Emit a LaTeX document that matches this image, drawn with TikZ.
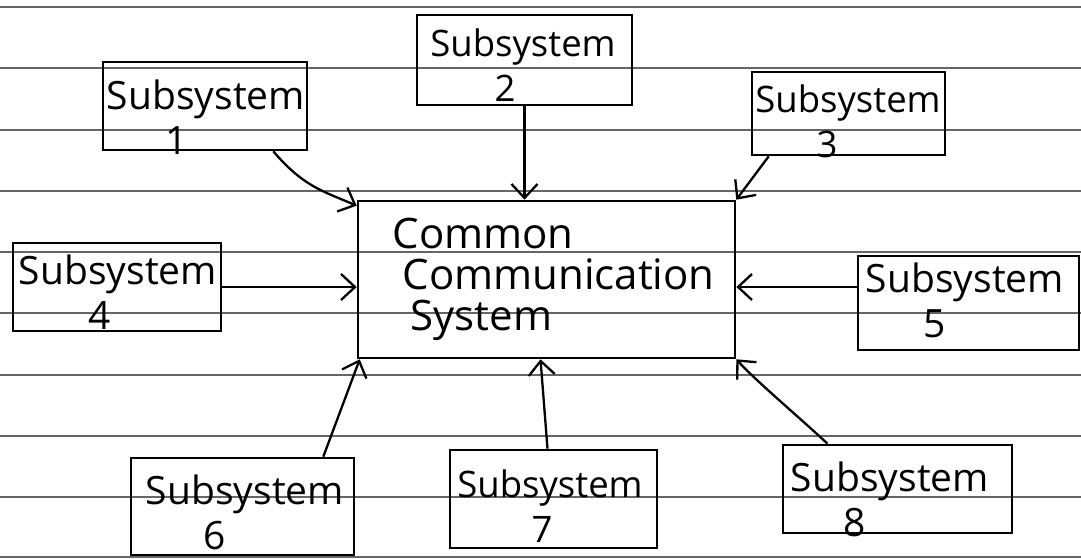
\documentclass[tikz,border=0pt]{standalone}
\usepackage{fontspec}
\setmainfont{Open Sans}
\usetikzlibrary{arrows.meta,calc}
\begin{document}
\begin{tikzpicture}[x=1pt,y=-1pt,
  rule/.style={draw=black!60, line width=1.5pt},
  subbox/.style={draw, line width=2.6pt, inner sep=0pt},
  subtext/.style={align=center, inner sep=0pt, font=\fontsize{39}{45}\selectfont},
  narrow/.style={font=\fontsize{36.5}{45}\selectfont},
  mainbox/.style={draw, line width=2.6pt, align=left, inner sep=0pt,
    text width=372pt, font=\fontsize{42}{41}\selectfont},
  link/.style={line width=2.3pt,
    -{Straight Barb[length=14pt,width=26pt,line width=2.3pt]}}]

% page and ruling
\fill[white] (0,0) rectangle (1081,559);
\useasboundingbox (0,0) rectangle (1081,559);
\foreach \y in {7,68,130,191,252,313,375,436,497,557}
  \draw[rule] (0,\y) -- (1081,\y);

% central block
\node[mainbox, minimum width=377pt, minimum height=157pt] (cc) at (546.5,279.5)
  {\hspace*{32pt}Common\\\hspace*{42pt}\mbox{Communication}\\\hspace*{50pt}System};

% subsystem frames
\node[subbox, minimum width=204pt, minimum height=88pt] (s1) at (205,106) {};
\node[subbox, minimum width=215pt, minimum height=90pt] (s2) at (524.5,60) {};
\node[subbox, minimum width=193pt, minimum height=83pt] (s3) at (848.5,113.5) {};
\node[subbox, minimum width=208pt, minimum height=88pt] (s4) at (117,287) {};
\node[subbox, minimum width=221pt, minimum height=94pt] (s5) at (968.5,303) {};
\node[subbox, minimum width=223pt, minimum height=97pt] (s6) at (242.5,506.5) {};
\node[subbox, minimum width=207pt, minimum height=98pt] (s7) at (553.5,499) {};
\node[subbox, minimum width=229pt, minimum height=88pt] (s8) at (897.5,489) {};

% subsystem captions
\node[subtext] (t1) at (206,117) {Subsystem\\1\hspace*{58pt}};
\node[subtext, narrow] (t2) at (523,65) {Subsystem\\2\hspace*{36pt}};
\node[subtext, narrow] (t3) at (848,121) {Subsystem\\3\hspace*{42pt}};
\node[subtext] (t4) at (118,292) {Subsystem\\4\hspace*{36pt}};
\node[subtext] (t5) at (965,300) {Subsystem\\5\hspace*{60pt}};
\node[subtext] (t6) at (245,512) {Subsystem\\6\hspace*{60pt}};
\node[subtext, narrow] (t7) at (550,506) {Subsystem\\7\hspace*{16pt}};
\node[subtext] (t8) at (890,499) {Subsystem\\8\hspace*{70pt}};

% links into the central block
\draw[link] ([xshift=-35pt]s1.south east) .. controls +(30,35) and +(-35,-15) .. ([yshift=-6pt]cc.north west);
\draw[link] (s2.south) -- ([xshift=-22pt]cc.north);
\draw[link] ([xshift=18pt]s3.south west) -- (cc.north east);
\draw[link] (s4.east) -- (s4.east -| cc.west);
\draw[link] ([yshift=16pt]s5.west) -- ([yshift=16pt]s5.west -| cc.east);
\draw[link] ([xshift=-32pt]s6.north east) -- ([xshift=3pt]cc.south west);
\draw[link] ([xshift=-6pt]s7.north) -- ([xshift=-6pt]cc.south);
\draw[link] ([xshift=-70pt]s8.north) .. controls +(-30,-28) and +(20,22) .. (cc.south east);
\end{tikzpicture}
\end{document}
